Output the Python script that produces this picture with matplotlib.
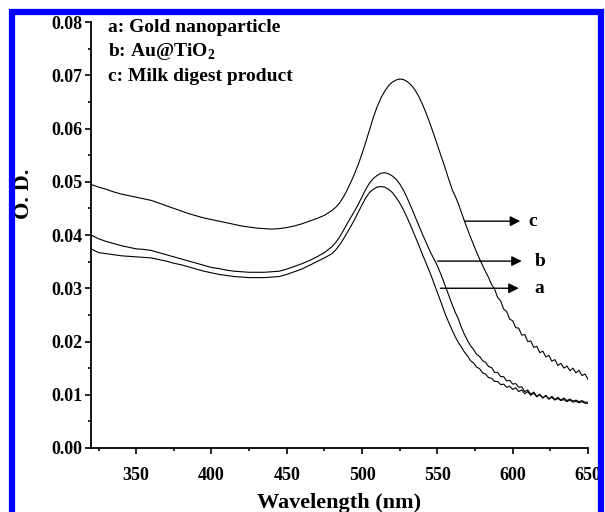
import matplotlib
matplotlib.use('Agg')
import matplotlib.pyplot as plt
from matplotlib.patches import Rectangle
from matplotlib.ticker import MultipleLocator, FormatStrFormatter

# wavelength grid (nm): 5 nm steps on the flat part, finer round the peak and tail
wavelength = (list(range(320, 480, 5))
              + [480 + 2.5 * i for i in range(32)]
              + list(range(560, 652, 2)))

# a: Gold nanoparticle
od_a = ([0.0374, 0.0367, 0.0365, 0.0363, 0.0361, 0.0360, 0.0359, 0.0358, 0.0357, 0.0354,
         0.0351, 0.0347, 0.0344, 0.0340, 0.0336, 0.0332, 0.0329, 0.0326, 0.0324, 0.0322,
         0.0321, 0.0320, 0.0320, 0.0320, 0.0321, 0.0322, 0.0326, 0.0331, 0.0336, 0.0343,
         0.0350, 0.0357]
        + [0.0365, 0.0372, 0.0381, 0.0392, 0.0404, 0.0416, 0.0429, 0.0443, 0.0457, 0.0470,
           0.0480, 0.0486, 0.0490, 0.0491, 0.0490, 0.0486, 0.0480, 0.0471, 0.0460, 0.0447,
           0.0432, 0.0416, 0.0399, 0.0382, 0.0364, 0.0347, 0.0330, 0.0311, 0.0292, 0.0273,
           0.0253, 0.0236]
        + [0.0220, 0.0208, 0.0198, 0.0189, 0.0180, 0.0173, 0.0164, 0.0160, 0.0152, 0.0149,
           0.0141, 0.0139, 0.0132, 0.0131, 0.0125, 0.0125, 0.0119, 0.0120, 0.0114, 0.0116,
           0.0110, 0.0113, 0.0106, 0.0109, 0.0102, 0.0106, 0.0099, 0.0103, 0.0096, 0.0100,
           0.0094, 0.0098, 0.0092, 0.0095, 0.0090, 0.0093, 0.0089, 0.0091, 0.0087, 0.0090,
           0.0086, 0.0088, 0.0085, 0.0087, 0.0084, 0.0084])

# b: Au@TiO2
od_b = ([0.0400, 0.0393, 0.0388, 0.0384, 0.0380, 0.0377, 0.0374, 0.0373, 0.0371, 0.0367,
         0.0363, 0.0359, 0.0355, 0.0351, 0.0347, 0.0343, 0.0339, 0.0337, 0.0334, 0.0332,
         0.0331, 0.0330, 0.0330, 0.0330, 0.0331, 0.0332, 0.0336, 0.0341, 0.0346, 0.0352,
         0.0359, 0.0367]
        + [0.0378, 0.0386, 0.0396, 0.0408, 0.0421, 0.0433, 0.0445, 0.0458, 0.0472, 0.0486,
           0.0498, 0.0506, 0.0512, 0.0516, 0.0517, 0.0515, 0.0511, 0.0505, 0.0496, 0.0484,
           0.0469, 0.0453, 0.0436, 0.0419, 0.0402, 0.0386, 0.0370, 0.0356, 0.0342, 0.0325,
           0.0306, 0.0287]
        + [0.0268, 0.0254, 0.0242, 0.0226, 0.0213, 0.0202, 0.0192, 0.0185, 0.0176, 0.0172,
           0.0164, 0.0161, 0.0153, 0.0151, 0.0142, 0.0142, 0.0134, 0.0134, 0.0126, 0.0127,
           0.0120, 0.0121, 0.0114, 0.0115, 0.0106, 0.0109, 0.0101, 0.0105, 0.0097, 0.0101,
           0.0094, 0.0099, 0.0092, 0.0097, 0.0091, 0.0095, 0.0090, 0.0094, 0.0089, 0.0092,
           0.0088, 0.0090, 0.0087, 0.0089, 0.0086, 0.0086])

# c: Milk digest product
od_c = ([0.0495, 0.0490, 0.0486, 0.0481, 0.0477, 0.0474, 0.0471, 0.0468, 0.0465, 0.0460,
         0.0455, 0.0450, 0.0445, 0.0440, 0.0436, 0.0432, 0.0429, 0.0426, 0.0423, 0.0420,
         0.0417, 0.0415, 0.0413, 0.0412, 0.0411, 0.0412, 0.0414, 0.0417, 0.0421, 0.0426,
         0.0431, 0.0437]
        + [0.0446, 0.0452, 0.0460, 0.0471, 0.0484, 0.0499, 0.0515, 0.0533, 0.0553, 0.0575,
           0.0598, 0.0621, 0.0641, 0.0657, 0.0670, 0.0680, 0.0687, 0.0691, 0.0693, 0.0692,
           0.0688, 0.0682, 0.0673, 0.0661, 0.0646, 0.0629, 0.0610, 0.0590, 0.0569, 0.0548,
           0.0527, 0.0505]
        + [0.0484, 0.0472, 0.0458, 0.0442, 0.0426, 0.0411, 0.0396, 0.0382, 0.0368, 0.0355,
           0.0343, 0.0331, 0.0320, 0.0307, 0.0298, 0.0283, 0.0276, 0.0261, 0.0256, 0.0242,
           0.0239, 0.0226, 0.0225, 0.0212, 0.0213, 0.0200, 0.0201, 0.0189, 0.0191, 0.0179,
           0.0182, 0.0171, 0.0174, 0.0163, 0.0166, 0.0155, 0.0159, 0.0150, 0.0154, 0.0145,
           0.0150, 0.0141, 0.0146, 0.0136, 0.0139, 0.0129])

legend_lines = ["a: Gold nanoparticle", "b: Au@TiO$_\\mathbf{2}$", "c: Milk digest product"]

# arrow labels: (label, start wavelength, end wavelength, OD, label wavelength)
arrows = [("c", 568, 605, 0.0426, 610.5),
          ("b", 550, 606, 0.0351, 614.5),
          ("a", 552, 604, 0.0300, 614.5)]

plt.rcParams['font.family'] = 'Liberation Serif'
plt.rcParams['font.weight'] = 'bold'
plt.rcParams['mathtext.fontset'] = 'custom'
plt.rcParams['mathtext.rm'] = 'Liberation Serif:bold'
plt.rcParams['mathtext.bf'] = 'Liberation Serif:bold'

fig = plt.figure(figsize=(6.05, 5.12), dpi=100)
ax = fig.add_axes([0.1504, 0.125, 0.8215, 0.832])

for od in (od_a, od_b, od_c):
    ax.plot(wavelength, od, color='black', linewidth=0.8)

ax.set_xlim(320, 650)
ax.set_ylim(0, 0.08)
ax.xaxis.set_major_locator(MultipleLocator(50))
ax.xaxis.set_minor_locator(MultipleLocator(25))
ax.yaxis.set_major_locator(MultipleLocator(0.01))
ax.yaxis.set_minor_locator(MultipleLocator(0.005))
ax.yaxis.set_major_formatter(FormatStrFormatter('%.2f'))

for side in ('top', 'right'):
    ax.spines[side].set_visible(False)
for side in ('left', 'bottom'):
    ax.spines[side].set_linewidth(1.3)

ax.tick_params(which='major', length=4.5, width=1.2, labelsize=13)
ax.tick_params(which='minor', length=2.5, width=1.2)
ax.tick_params(axis='x', which='major', pad=9.5)
ax.tick_params(axis='y', which='major', pad=1.5)
for lbl in ax.get_xticklabels() + ax.get_yticklabels():
    lbl.set_fontweight('bold')

ax.set_xlabel("Wavelength (nm)", fontsize=16, fontweight='bold', labelpad=6)
ax.set_ylabel("O. D.", fontsize=16, fontweight='bold')
ax.yaxis.set_label_coords(-0.114, 0.596)

for i, txt in enumerate(legend_lines):
    ax.text(0.034, 0.988 - i * 0.0575, txt, transform=ax.transAxes, fontsize=14,
            fontweight='bold', va='center', ha='left')

for lab, x0, x1, y, xl in arrows:
    ax.annotate("", xy=(x1, y), xytext=(x0, y),
                arrowprops=dict(arrowstyle='-|>,head_length=0.6,head_width=0.3',
                                color='black', lw=1.0, mutation_scale=10,
                                shrinkA=0, shrinkB=0))
    ax.text(xl, y, lab, fontsize=14, fontweight='bold', va='center', ha='left')

# blue frame round the figure
fig.patches.append(Rectangle((0.0198, -0.05), 0.9736, 1.027, transform=fig.transFigure,
                             fill=False, edgecolor='#0000ff', linewidth=4.5))

fig.savefig('out.png', dpi=100)
